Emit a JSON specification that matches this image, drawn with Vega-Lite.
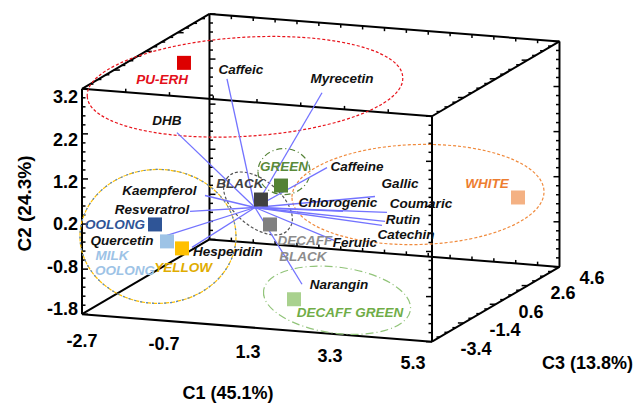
{
  "$schema": "https://vega.github.io/schema/vega-lite/v6.json",
  "width": 636,
  "height": 404,
  "autosize": {"type": "fit", "contains": "padding"},
  "padding": 0,
  "background": "white",
  "config": {"view": {"stroke": null}},
  "datasets": {
    "edges": [
      {"X": -2.7, "Y": -1.8, "X2": -2.7, "Y2": 3.2},
      {"X": -2.7, "Y": 3.2, "X2": 5.3, "Y2": 2.591},
      {"X": 5.3, "Y": 2.591, "X2": 5.3, "Y2": -2.409},
      {"X": 5.3, "Y": -2.409, "X2": -2.7, "Y2": -1.8},
      {"X": 0.214, "Y": 4.859, "X2": 8.214, "Y2": 4.25},
      {"X": 8.214, "Y": 4.25, "X2": 8.214, "Y2": -0.75},
      {"X": 8.214, "Y": -0.75, "X2": 0.214, "Y2": -0.141},
      {"X": 0.214, "Y": -0.141, "X2": 0.214, "Y2": 4.859},
      {"X": -2.7, "Y": -1.8, "X2": 0.214, "Y2": -0.141},
      {"X": -2.7, "Y": 3.2, "X2": 0.214, "Y2": 4.859},
      {"X": 5.3, "Y": 2.591, "X2": 8.214, "Y2": 4.25},
      {"X": 5.3, "Y": -2.409, "X2": 8.214, "Y2": -0.75}
    ],
    "ticks": [
      {"X": -2.7, "Y": -1.8, "d": "R", "k": "M"}, {"X": -2.7, "Y": -1.6, "d": "R", "k": "m"}, {"X": -2.7, "Y": -1.4, "d": "R", "k": "m"}, {"X": -2.7, "Y": -1.2, "d": "R", "k": "m"}, {"X": -2.7, "Y": -1.0, "d": "R", "k": "m"},
      {"X": -2.7, "Y": -0.8, "d": "R", "k": "M"}, {"X": -2.7, "Y": -0.6, "d": "R", "k": "m"}, {"X": -2.7, "Y": -0.4, "d": "R", "k": "m"}, {"X": -2.7, "Y": -0.2, "d": "R", "k": "m"}, {"X": -2.7, "Y": 0.0, "d": "R", "k": "m"},
      {"X": -2.7, "Y": 0.2, "d": "R", "k": "M"}, {"X": -2.7, "Y": 0.4, "d": "R", "k": "m"}, {"X": -2.7, "Y": 0.6, "d": "R", "k": "m"}, {"X": -2.7, "Y": 0.8, "d": "R", "k": "m"}, {"X": -2.7, "Y": 1.0, "d": "R", "k": "m"},
      {"X": -2.7, "Y": 1.2, "d": "R", "k": "M"}, {"X": -2.7, "Y": 1.4, "d": "R", "k": "m"}, {"X": -2.7, "Y": 1.6, "d": "R", "k": "m"}, {"X": -2.7, "Y": 1.8, "d": "R", "k": "m"}, {"X": -2.7, "Y": 2.0, "d": "R", "k": "m"},
      {"X": -2.7, "Y": 2.2, "d": "R", "k": "M"}, {"X": -2.7, "Y": 2.4, "d": "R", "k": "m"}, {"X": -2.7, "Y": 2.6, "d": "R", "k": "m"}, {"X": -2.7, "Y": 2.8, "d": "R", "k": "m"}, {"X": -2.7, "Y": 3.0, "d": "R", "k": "m"},
      {"X": -2.7, "Y": 3.2, "d": "R", "k": "M"},
      {"X": 0.214, "Y": -0.141, "d": "R", "k": "M"}, {"X": 0.214, "Y": 0.059, "d": "R", "k": "m"}, {"X": 0.214, "Y": 0.259, "d": "R", "k": "m"}, {"X": 0.214, "Y": 0.459, "d": "R", "k": "m"}, {"X": 0.214, "Y": 0.659, "d": "R", "k": "m"},
      {"X": 0.214, "Y": 0.859, "d": "R", "k": "M"}, {"X": 0.214, "Y": 1.059, "d": "R", "k": "m"}, {"X": 0.214, "Y": 1.259, "d": "R", "k": "m"}, {"X": 0.214, "Y": 1.459, "d": "R", "k": "m"}, {"X": 0.214, "Y": 1.659, "d": "R", "k": "m"},
      {"X": 0.214, "Y": 1.859, "d": "R", "k": "M"}, {"X": 0.214, "Y": 2.059, "d": "R", "k": "m"}, {"X": 0.214, "Y": 2.259, "d": "R", "k": "m"}, {"X": 0.214, "Y": 2.459, "d": "R", "k": "m"}, {"X": 0.214, "Y": 2.659, "d": "R", "k": "m"},
      {"X": 0.214, "Y": 2.859, "d": "R", "k": "M"}, {"X": 0.214, "Y": 3.059, "d": "R", "k": "m"}, {"X": 0.214, "Y": 3.259, "d": "R", "k": "m"}, {"X": 0.214, "Y": 3.459, "d": "R", "k": "m"}, {"X": 0.214, "Y": 3.659, "d": "R", "k": "m"},
      {"X": 0.214, "Y": 3.859, "d": "R", "k": "M"}, {"X": 0.214, "Y": 4.059, "d": "R", "k": "m"}, {"X": 0.214, "Y": 4.259, "d": "R", "k": "m"}, {"X": 0.214, "Y": 4.459, "d": "R", "k": "m"}, {"X": 0.214, "Y": 4.659, "d": "R", "k": "m"},
      {"X": 0.214, "Y": 4.859, "d": "R", "k": "M"},
      {"X": 5.3, "Y": -2.409, "d": "L", "k": "M"}, {"X": 5.3, "Y": -2.209, "d": "L", "k": "m"}, {"X": 5.3, "Y": -2.009, "d": "L", "k": "m"}, {"X": 5.3, "Y": -1.809, "d": "L", "k": "m"}, {"X": 5.3, "Y": -1.609, "d": "L", "k": "m"},
      {"X": 5.3, "Y": -1.409, "d": "L", "k": "M"}, {"X": 5.3, "Y": -1.209, "d": "L", "k": "m"}, {"X": 5.3, "Y": -1.009, "d": "L", "k": "m"}, {"X": 5.3, "Y": -0.809, "d": "L", "k": "m"}, {"X": 5.3, "Y": -0.609, "d": "L", "k": "m"},
      {"X": 5.3, "Y": -0.409, "d": "L", "k": "M"}, {"X": 5.3, "Y": -0.209, "d": "L", "k": "m"}, {"X": 5.3, "Y": -0.009, "d": "L", "k": "m"}, {"X": 5.3, "Y": 0.191, "d": "L", "k": "m"}, {"X": 5.3, "Y": 0.391, "d": "L", "k": "m"},
      {"X": 5.3, "Y": 0.591, "d": "L", "k": "M"}, {"X": 5.3, "Y": 0.791, "d": "L", "k": "m"}, {"X": 5.3, "Y": 0.991, "d": "L", "k": "m"}, {"X": 5.3, "Y": 1.191, "d": "L", "k": "m"}, {"X": 5.3, "Y": 1.391, "d": "L", "k": "m"},
      {"X": 5.3, "Y": 1.591, "d": "L", "k": "M"}, {"X": 5.3, "Y": 1.791, "d": "L", "k": "m"}, {"X": 5.3, "Y": 1.991, "d": "L", "k": "m"}, {"X": 5.3, "Y": 2.191, "d": "L", "k": "m"}, {"X": 5.3, "Y": 2.391, "d": "L", "k": "m"},
      {"X": 5.3, "Y": 2.591, "d": "L", "k": "M"},
      {"X": 8.214, "Y": -0.75, "d": "L", "k": "M"}, {"X": 8.214, "Y": -0.55, "d": "L", "k": "m"}, {"X": 8.214, "Y": -0.35, "d": "L", "k": "m"}, {"X": 8.214, "Y": -0.15, "d": "L", "k": "m"}, {"X": 8.214, "Y": 0.05, "d": "L", "k": "m"},
      {"X": 8.214, "Y": 0.25, "d": "L", "k": "M"}, {"X": 8.214, "Y": 0.45, "d": "L", "k": "m"}, {"X": 8.214, "Y": 0.65, "d": "L", "k": "m"}, {"X": 8.214, "Y": 0.85, "d": "L", "k": "m"}, {"X": 8.214, "Y": 1.05, "d": "L", "k": "m"},
      {"X": 8.214, "Y": 1.25, "d": "L", "k": "M"}, {"X": 8.214, "Y": 1.45, "d": "L", "k": "m"}, {"X": 8.214, "Y": 1.65, "d": "L", "k": "m"}, {"X": 8.214, "Y": 1.85, "d": "L", "k": "m"}, {"X": 8.214, "Y": 2.05, "d": "L", "k": "m"},
      {"X": 8.214, "Y": 2.25, "d": "L", "k": "M"}, {"X": 8.214, "Y": 2.45, "d": "L", "k": "m"}, {"X": 8.214, "Y": 2.65, "d": "L", "k": "m"}, {"X": 8.214, "Y": 2.85, "d": "L", "k": "m"}, {"X": 8.214, "Y": 3.05, "d": "L", "k": "m"},
      {"X": 8.214, "Y": 3.25, "d": "L", "k": "M"}, {"X": 8.214, "Y": 3.45, "d": "L", "k": "m"}, {"X": 8.214, "Y": 3.65, "d": "L", "k": "m"}, {"X": 8.214, "Y": 3.85, "d": "L", "k": "m"}, {"X": 8.214, "Y": 4.05, "d": "L", "k": "m"},
      {"X": 8.214, "Y": 4.25, "d": "L", "k": "M"},
      {"X": -2.518, "Y": 3.304, "d": "R", "k": "m"}, {"X": -2.336, "Y": 3.407, "d": "R", "k": "m"}, {"X": -2.154, "Y": 3.511, "d": "R", "k": "m"}, {"X": -1.971, "Y": 3.615, "d": "R", "k": "M"},
      {"X": -1.789, "Y": 3.719, "d": "R", "k": "m"}, {"X": -1.607, "Y": 3.822, "d": "R", "k": "m"}, {"X": -1.425, "Y": 3.926, "d": "R", "k": "m"}, {"X": -1.243, "Y": 4.03, "d": "R", "k": "M"},
      {"X": -1.061, "Y": 4.133, "d": "R", "k": "m"}, {"X": -0.878, "Y": 4.237, "d": "R", "k": "m"}, {"X": -0.696, "Y": 4.341, "d": "R", "k": "m"}, {"X": -0.514, "Y": 4.444, "d": "R", "k": "M"},
      {"X": -0.332, "Y": 4.548, "d": "R", "k": "m"}, {"X": -0.15, "Y": 4.652, "d": "R", "k": "m"}, {"X": 0.032, "Y": 4.756, "d": "R", "k": "m"},
      {"X": 5.482, "Y": 2.695, "d": "L", "k": "m"}, {"X": 5.664, "Y": 2.798, "d": "L", "k": "m"}, {"X": 5.846, "Y": 2.902, "d": "L", "k": "m"}, {"X": 6.029, "Y": 3.006, "d": "L", "k": "M"},
      {"X": 6.211, "Y": 3.11, "d": "L", "k": "m"}, {"X": 6.393, "Y": 3.213, "d": "L", "k": "m"}, {"X": 6.575, "Y": 3.317, "d": "L", "k": "m"}, {"X": 6.757, "Y": 3.421, "d": "L", "k": "M"},
      {"X": 6.939, "Y": 3.524, "d": "L", "k": "m"}, {"X": 7.122, "Y": 3.628, "d": "L", "k": "m"}, {"X": 7.304, "Y": 3.732, "d": "L", "k": "m"}, {"X": 7.486, "Y": 3.835, "d": "L", "k": "M"},
      {"X": 7.668, "Y": 3.939, "d": "L", "k": "m"}, {"X": 7.85, "Y": 4.043, "d": "L", "k": "m"}, {"X": 8.032, "Y": 4.147, "d": "L", "k": "m"},
      {"X": 5.482, "Y": -2.305, "d": "L", "k": "m"}, {"X": 5.664, "Y": -2.202, "d": "L", "k": "m"}, {"X": 5.846, "Y": -2.098, "d": "L", "k": "m"}, {"X": 6.029, "Y": -1.994, "d": "L", "k": "M"},
      {"X": 6.211, "Y": -1.89, "d": "L", "k": "m"}, {"X": 6.393, "Y": -1.787, "d": "L", "k": "m"}, {"X": 6.575, "Y": -1.683, "d": "L", "k": "m"}, {"X": 6.757, "Y": -1.579, "d": "L", "k": "M"},
      {"X": 6.939, "Y": -1.476, "d": "L", "k": "m"}, {"X": 7.122, "Y": -1.372, "d": "L", "k": "m"}, {"X": 7.304, "Y": -1.268, "d": "L", "k": "m"}, {"X": 7.486, "Y": -1.165, "d": "L", "k": "M"},
      {"X": 7.668, "Y": -1.061, "d": "L", "k": "m"}, {"X": 7.85, "Y": -0.957, "d": "L", "k": "m"}, {"X": 8.032, "Y": -0.853, "d": "L", "k": "m"},
      {"X": -1.7, "Y": 3.124, "d": "U", "k": "m"}, {"X": -0.7, "Y": 3.048, "d": "U", "k": "m"}, {"X": 0.3, "Y": 2.972, "d": "U", "k": "m"}, {"X": 1.3, "Y": 2.896, "d": "U", "k": "m"},
      {"X": 2.3, "Y": 2.819, "d": "U", "k": "m"}, {"X": 3.3, "Y": 2.743, "d": "U", "k": "m"}, {"X": 4.3, "Y": 2.667, "d": "U", "k": "m"},
      {"X": 0.714, "Y": 4.821, "d": "D", "k": "m"}, {"X": 1.214, "Y": 4.783, "d": "D", "k": "m"}, {"X": 1.714, "Y": 4.745, "d": "D", "k": "m"}, {"X": 2.214, "Y": 4.707, "d": "D", "k": "m"},
      {"X": 2.714, "Y": 4.669, "d": "D", "k": "m"}, {"X": 3.214, "Y": 4.631, "d": "D", "k": "m"}, {"X": 3.714, "Y": 4.593, "d": "D", "k": "m"}, {"X": 4.214, "Y": 4.555, "d": "D", "k": "m"},
      {"X": 4.714, "Y": 4.517, "d": "D", "k": "m"}, {"X": 5.214, "Y": 4.478, "d": "D", "k": "m"}, {"X": 5.714, "Y": 4.44, "d": "D", "k": "m"}, {"X": 6.214, "Y": 4.402, "d": "D", "k": "m"},
      {"X": 6.714, "Y": 4.364, "d": "D", "k": "m"}, {"X": 7.214, "Y": 4.326, "d": "D", "k": "m"}, {"X": 7.714, "Y": 4.288, "d": "D", "k": "m"},
      {"X": 0.714, "Y": -0.179, "d": "U", "k": "m"}, {"X": 1.214, "Y": -0.217, "d": "U", "k": "m"}, {"X": 1.714, "Y": -0.255, "d": "U", "k": "m"}, {"X": 2.214, "Y": -0.293, "d": "U", "k": "m"},
      {"X": 2.714, "Y": -0.331, "d": "U", "k": "m"}, {"X": 3.214, "Y": -0.369, "d": "U", "k": "m"}, {"X": 3.714, "Y": -0.407, "d": "U", "k": "m"}, {"X": 4.214, "Y": -0.445, "d": "U", "k": "m"},
      {"X": 4.714, "Y": -0.483, "d": "U", "k": "m"}, {"X": 5.214, "Y": -0.522, "d": "U", "k": "m"}, {"X": 5.714, "Y": -0.56, "d": "U", "k": "m"}, {"X": 6.214, "Y": -0.598, "d": "U", "k": "m"},
      {"X": 6.714, "Y": -0.636, "d": "U", "k": "m"}, {"X": 7.214, "Y": -0.674, "d": "U", "k": "m"}, {"X": 7.714, "Y": -0.712, "d": "U", "k": "m"}
    ],
    "ellipses": [
      {"g": "PU-ERH", "X": 1.026, "Y": 3.244},
      {"g": "WHITE", "X": 4.98, "Y": 0.855},
      {"g": "GREEN", "X": 1.917, "Y": 1.364},
      {"g": "BLACK", "X": 1.323, "Y": 0.656},
      {"g": "YELLOW", "X": -0.963, "Y": -0.074},
      {"g": "OOLONG", "X": -0.963, "Y": -0.074},
      {"g": "DECAFF GREEN", "X": 3.129, "Y": -1.49}
    ],
    "vectors": [
      {"v": "Caffeic", "X": 0.614, "Y": 3.421, "X2": 1.254, "Y2": 0.567},
      {"v": "Myrecetin", "X": 2.786, "Y": 3.112, "X2": 1.254, "Y2": 0.567},
      {"v": "DHB", "X": -0.529, "Y": 2.227, "X2": 1.254, "Y2": 0.567},
      {"v": "Caffeine", "X": 2.9, "Y": 1.452, "X2": 1.254, "Y2": 0.567},
      {"v": "Gallic", "X": 3.997, "Y": 0.811, "X2": 1.254, "Y2": 0.567},
      {"v": "Coumaric", "X": 4.271, "Y": 0.457, "X2": 1.254, "Y2": 0.567},
      {"v": "Rutin", "X": 4.226, "Y": 0.258, "X2": 1.254, "Y2": 0.567},
      {"v": "Catechin", "X": 4.157, "Y": 0.169, "X2": 1.254, "Y2": 0.567},
      {"v": "Chlorogenic", "X": 3.266, "Y": 0.479, "X2": 1.254, "Y2": 0.567},
      {"v": "Ferulic", "X": 3.06, "Y": -0.163, "X2": 1.254, "Y2": 0.567},
      {"v": "Narangin", "X": 2.329, "Y": -1.136, "X2": 1.254, "Y2": 0.567},
      {"v": "Kaempferol", "X": 0.111, "Y": 0.833, "X2": 1.254, "Y2": 0.567},
      {"v": "Resveratrol", "X": -0.231, "Y": 0.479, "X2": 1.254, "Y2": 0.567},
      {"v": "Quercetin", "X": -0.757, "Y": -0.052, "X2": 1.254, "Y2": 0.567},
      {"v": "Hesperidin", "X": -0.186, "Y": -0.318, "X2": 1.254, "Y2": 0.567}
    ],
    "varlabels": [
      {"t": "Caffeic", "X": 0.934, "Y": 3.62},
      {"t": "Myrecetin", "X": 3.243, "Y": 3.421},
      {"t": "DHB", "X": -0.757, "Y": 2.492},
      {"t": "Caffeine", "X": 3.586, "Y": 1.474},
      {"t": "Gallic", "X": 4.569, "Y": 1.098},
      {"t": "Coumaric", "X": 5.049, "Y": 0.634},
      {"t": "Chlorogenic", "X": 3.151, "Y": 0.656},
      {"t": "Rutin", "X": 4.637, "Y": 0.285},
      {"t": "Catechin", "X": 4.706, "Y": -0.035},
      {"t": "Ferulic", "X": 3.54, "Y": -0.229},
      {"t": "Kaempferol", "X": -0.929, "Y": 0.943},
      {"t": "Resveratrol", "X": -1.1, "Y": 0.501},
      {"t": "Quercetin", "X": -1.786, "Y": -0.185},
      {"t": "Hesperidin", "X": 0.637, "Y": -0.428},
      {"t": "Narangin", "X": 3.174, "Y": -1.158}
    ],
    "groups": [
      {"g": "PU-ERH", "X": -0.369, "Y": 3.775},
      {"g": "BLACK", "X": 1.391, "Y": 0.744},
      {"g": "GREEN", "X": 1.849, "Y": 1.054},
      {"g": "DECAFF BLACK", "X": 1.597, "Y": 0.191},
      {"g": "WHITE", "X": 7.266, "Y": 0.789},
      {"g": "OOLONG", "X": -1.031, "Y": 0.191},
      {"g": "MILK OOLONG", "X": -0.757, "Y": -0.185},
      {"g": "YELLOW", "X": -0.414, "Y": -0.34},
      {"g": "DECAFF GREEN", "X": 2.146, "Y": -1.468}
    ],
    "grouplabels": [
      {"t": "PU-ERH", "g": "PU-ERH", "X": -0.871, "Y": 3.399},
      {"t": "GREEN", "g": "GREEN", "X": 1.917, "Y": 1.474},
      {"t": "BLACK", "g": "BLACK", "X": 0.911, "Y": 1.098},
      {"t": "WHITE", "g": "WHITE", "X": 6.557, "Y": 1.098},
      {"t": "DECAFF", "g": "DECAFF BLACK", "X": 2.397, "Y": -0.185},
      {"t": "BLACK", "g": "DECAFF BLACK", "X": 2.351, "Y": -0.539},
      {"t": "OOLONG", "g": "OOLONG", "X": -1.946, "Y": 0.169},
      {"t": "MILK", "g": "MILK OOLONG", "X": -2.014, "Y": -0.517},
      {"t": "OOLONG", "g": "MILK OOLONG", "X": -1.717, "Y": -0.849},
      {"t": "YELLOW", "g": "YELLOW", "X": -0.391, "Y": -0.782},
      {"t": "DECAFF GREEN", "g": "DECAFF GREEN", "X": 3.426, "Y": -1.778}
    ],
    "ylabels": [
      {"t": "3.2", "X": -2.791, "Y": 3.001},
      {"t": "2.2", "X": -2.791, "Y": 2.05},
      {"t": "1.2", "X": -2.791, "Y": 1.12},
      {"t": "0.2", "X": -2.791, "Y": 0.169},
      {"t": "-0.8", "X": -2.791, "Y": -0.782},
      {"t": "-1.8", "X": -2.791, "Y": -1.712}
    ],
    "xzlabels": [
      {"t": "-2.7", "X": -2.7, "Y": -2.419},
      {"t": "-0.7", "X": -0.826, "Y": -2.486},
      {"t": "1.3", "X": 1.094, "Y": -2.663},
      {"t": "3.3", "X": 2.969, "Y": -2.751},
      {"t": "5.3", "X": 4.866, "Y": -2.906},
      {"t": "-3.4", "X": 6.306, "Y": -2.596},
      {"t": "-1.4", "X": 6.969, "Y": -2.176},
      {"t": "0.6", "X": 7.563, "Y": -1.778},
      {"t": "2.6", "X": 8.294, "Y": -1.358},
      {"t": "4.6", "X": 8.957, "Y": -1.026},
      {"t": "C1 (45.1%)", "X": 0.637, "Y": -3.57},
      {"t": "C3 (13.8%)", "X": 8.854, "Y": -2.895}
    ],
    "ytitle": [
      {"t": "C2 (24.3%)", "X": -4.003, "Y": 0.656}
    ]
  },
  "encoding": {
    "x": {"field": "X", "type": "quantitative", "scale": {"domain": [-4.574, 9.963], "nice": false, "zero": false}, "axis": null},
    "y": {"field": "Y", "type": "quantitative", "scale": {"domain": [-3.769, 5.169], "nice": false, "zero": false}, "axis": null}
  },
  "layer": [
    {
      "data": {"name": "edges"},
      "mark": {"type": "rule", "color": "black", "strokeWidth": 2},
      "encoding": {"x2": {"field": "X2"}, "y2": {"field": "Y2"}}
    },
    {
      "data": {"name": "ticks"},
      "transform": [{"filter": "datum.d === 'R' && datum.k === 'M'"}],
      "mark": {"type": "tick", "orient": "horizontal", "size": 6, "thickness": 1.5, "xOffset": 3, "color": "black", "opacity": 1}
    },
    {
      "data": {"name": "ticks"},
      "transform": [{"filter": "datum.d === 'R' && datum.k === 'm'"}],
      "mark": {"type": "tick", "orient": "horizontal", "size": 3.5, "thickness": 1.5, "xOffset": 1.75, "color": "black", "opacity": 1}
    },
    {
      "data": {"name": "ticks"},
      "transform": [{"filter": "datum.d === 'L' && datum.k === 'M'"}],
      "mark": {"type": "tick", "orient": "horizontal", "size": 6, "thickness": 1.5, "xOffset": -3, "color": "black", "opacity": 1}
    },
    {
      "data": {"name": "ticks"},
      "transform": [{"filter": "datum.d === 'L' && datum.k === 'm'"}],
      "mark": {"type": "tick", "orient": "horizontal", "size": 3.5, "thickness": 1.5, "xOffset": -1.75, "color": "black", "opacity": 1}
    },
    {
      "data": {"name": "ticks"},
      "transform": [{"filter": "datum.d === 'D'"}],
      "mark": {"type": "tick", "orient": "vertical", "size": 3.5, "thickness": 1.5, "yOffset": 1.75, "color": "black", "opacity": 1}
    },
    {
      "data": {"name": "ticks"},
      "transform": [{"filter": "datum.d === 'U'"}],
      "mark": {"type": "tick", "orient": "vertical", "size": 3.5, "thickness": 1.5, "yOffset": -1.75, "color": "black", "opacity": 1}
    },
    {
      "data": {"name": "ellipses"},
      "mark": {"type": "point", "filled": false, "size": 4, "strokeWidth": 1.2, "opacity": 1},
      "encoding": {
        "shape": {"field": "g", "type": "nominal", "legend": null, "scale": {
          "domain": ["PU-ERH", "WHITE", "GREEN", "BLACK", "YELLOW", "OOLONG", "DECAFF GREEN"],
          "range": [
            "M -157.7 9.6 A 158 49 -3.5 1 0 157.7 -9.6 A 158 49 -3.5 1 0 -157.7 9.6 Z",
            "M -126 3.3 A 126 50 -1.5 1 0 126 -3.3 A 126 50 -1.5 1 0 -126 3.3 Z",
            "M -26 0 A 26 23 0 1 0 26 0 A 26 23 0 1 0 -26 0 Z",
            "M -30.6 -25.7 A 40 22 40 1 0 30.6 25.7 A 40 22 40 1 0 -30.6 -25.7 Z",
            "M -78 0 A 78 67 0 1 0 78 0 A 78 67 0 1 0 -78 0 Z",
            "M -78 0 A 78 67 0 1 0 78 0 A 78 67 0 1 0 -78 0 Z",
            "M -73.4 -9.7 A 74 33 7.5 1 0 73.4 9.7 A 74 33 7.5 1 0 -73.4 -9.7 Z"
          ]}},
        "stroke": {"field": "g", "type": "nominal", "legend": null, "scale": {
          "domain": ["PU-ERH", "WHITE", "GREEN", "BLACK", "YELLOW", "OOLONG", "DECAFF GREEN"],
          "range": ["#e8141c", "#f08a3c", "#548235", "#555555", "#ffc000", "#4f86d0", "#92c47a"]}},
        "strokeDash": {"field": "g", "type": "nominal", "legend": null, "scale": {
          "domain": ["PU-ERH", "WHITE", "GREEN", "BLACK", "YELLOW", "OOLONG", "DECAFF GREEN"],
          "range": [[3, 2], [3, 2], [6, 3, 1, 3], [3, 2], [5, 1], [2, 4], [8, 3, 1, 3]]}}
      }
    },
    {
      "data": {"name": "vectors"},
      "mark": {"type": "rule", "color": "#7373ff", "strokeWidth": 1.3},
      "encoding": {"x2": {"field": "X2"}, "y2": {"field": "Y2"}}
    },
    {
      "data": {"name": "groups"},
      "mark": {"type": "point", "shape": "square", "filled": true, "size": 196, "opacity": 1, "strokeWidth": 0},
      "encoding": {
        "fill": {"field": "g", "type": "nominal", "legend": null, "scale": {
          "domain": ["PU-ERH", "BLACK", "GREEN", "DECAFF BLACK", "WHITE", "OOLONG", "MILK OOLONG", "YELLOW", "DECAFF GREEN"],
          "range": ["#dd0000", "#404040", "#548235", "#808080", "#f4b183", "#2f5597", "#9dc3e6", "#ffc000", "#a9d18e"]}}
      }
    },
    {
      "data": {"name": "varlabels"},
      "mark": {"type": "text", "font": "Liberation Sans", "fontSize": 13.5, "fontWeight": "bold", "fontStyle": "italic", "color": "#111111", "align": "center", "baseline": "middle"},
      "encoding": {"text": {"field": "t"}}
    },
    {
      "data": {"name": "grouplabels"},
      "mark": {"type": "text", "font": "Liberation Sans", "fontSize": 13.5, "fontWeight": "bold", "fontStyle": "italic", "align": "center", "baseline": "middle"},
      "encoding": {
        "text": {"field": "t"},
        "color": {"field": "g", "type": "nominal", "legend": null, "scale": {
          "domain": ["PU-ERH", "BLACK", "GREEN", "DECAFF BLACK", "WHITE", "OOLONG", "MILK OOLONG", "YELLOW", "DECAFF GREEN"],
          "range": ["#e3101a", "#404040", "#5a8a3a", "#8c8c8c", "#ed7d31", "#2f5597", "#9dc3e6", "#e0ac00", "#70ad47"]}}
      }
    },
    {
      "data": {"name": "ylabels"},
      "mark": {"type": "text", "font": "Liberation Sans", "fontSize": 18, "fontWeight": "bold", "color": "black", "align": "right", "baseline": "middle"},
      "encoding": {"text": {"field": "t"}}
    },
    {
      "data": {"name": "xzlabels"},
      "mark": {"type": "text", "font": "Liberation Sans", "fontSize": 18, "fontWeight": "bold", "color": "black", "align": "center", "baseline": "middle"},
      "encoding": {"text": {"field": "t"}}
    },
    {
      "data": {"name": "ytitle"},
      "mark": {"type": "text", "font": "Liberation Sans", "fontSize": 19, "fontWeight": "bold", "color": "black", "align": "center", "baseline": "middle", "angle": 270},
      "encoding": {"text": {"field": "t"}}
    }
  ]
}
